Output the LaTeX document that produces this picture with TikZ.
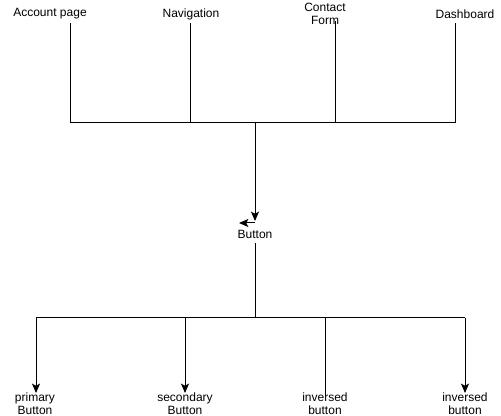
\documentclass[tikz,border=0pt]{standalone}
\usepackage{fontspec}
\setmainfont{Liberation Sans}
\usetikzlibrary{arrows.meta}
\begin{document}
\begin{tikzpicture}[x=0.75pt,y=-0.75pt,
  lbl/.style={inner sep=0pt,align=center,font=\fontsize{9pt}{10pt}\selectfont},
  wire/.style={line width=0.75pt},
  arr/.style={wire,-{Stealth[length=7pt,width=6pt,inset=1.5pt]}}]
\useasboundingbox (0,0) rectangle (501,416);
% top labels
\node[lbl] (acc) at (50,14) {Account page};
\node[lbl] (nav) at (191,14) {Navigation};
\node[lbl] (con) at (325,14) {Contact\\Form};
\node[lbl] (das) at (465,14) {Dashboard};
\node[lbl] (btn) at (255,234) {Button};
\node[lbl] (pri) at (35,404) {primary\\Button};
\node[lbl] (sec) at (185,404) {secondary\\Button};
\node[lbl] (inv1) at (325,404) {inversed\\button};
\node[lbl] (inv2) at (465,404) {inversed\\button};
% coordinates
\coordinate (a0) at (70,23);  \coordinate (a1) at (70,123);
\coordinate (n0) at (190,23); \coordinate (n1) at (190,123);
\coordinate (c0) at (335,21); \coordinate (c1) at (335,123);
\coordinate (d0) at (455,23); \coordinate (d1) at (455,123);
\coordinate (m0) at (255,123); \coordinate (m1) at (255,221);
\coordinate (k0) at (255,223); \coordinate (k1) at (239,223);
\coordinate (b0) at (255,243); \coordinate (b1) at (255,318);
\coordinate (p0) at (36,318); \coordinate (p1) at (36,393);
\coordinate (s0) at (185,318); \coordinate (s1) at (185,393);
\coordinate (i0) at (325,318); \coordinate (i1) at (325,396);
\coordinate (j0) at (465,318); \coordinate (j1) at (465,393);
% top tree
\draw[wire] (a0) -- (a1) -- (d1) -- (d0);
\draw[wire] (n0) -- (n1);
\draw[wire] (c0) -- (c1);
\draw[arr] (m0) -- (m1);
\draw[arr] (k0) -- (k1);
% bottom tree
\draw[wire] (b0) -- (b1);
\draw[wire] (p0) -- (j0);
\draw[arr] (p0) -- (p1);
\draw[arr] (s0) -- (s1);
\draw[wire] (i0) -- (i1);
\draw[arr] (j0) -- (j1);
\end{tikzpicture}
\end{document}
